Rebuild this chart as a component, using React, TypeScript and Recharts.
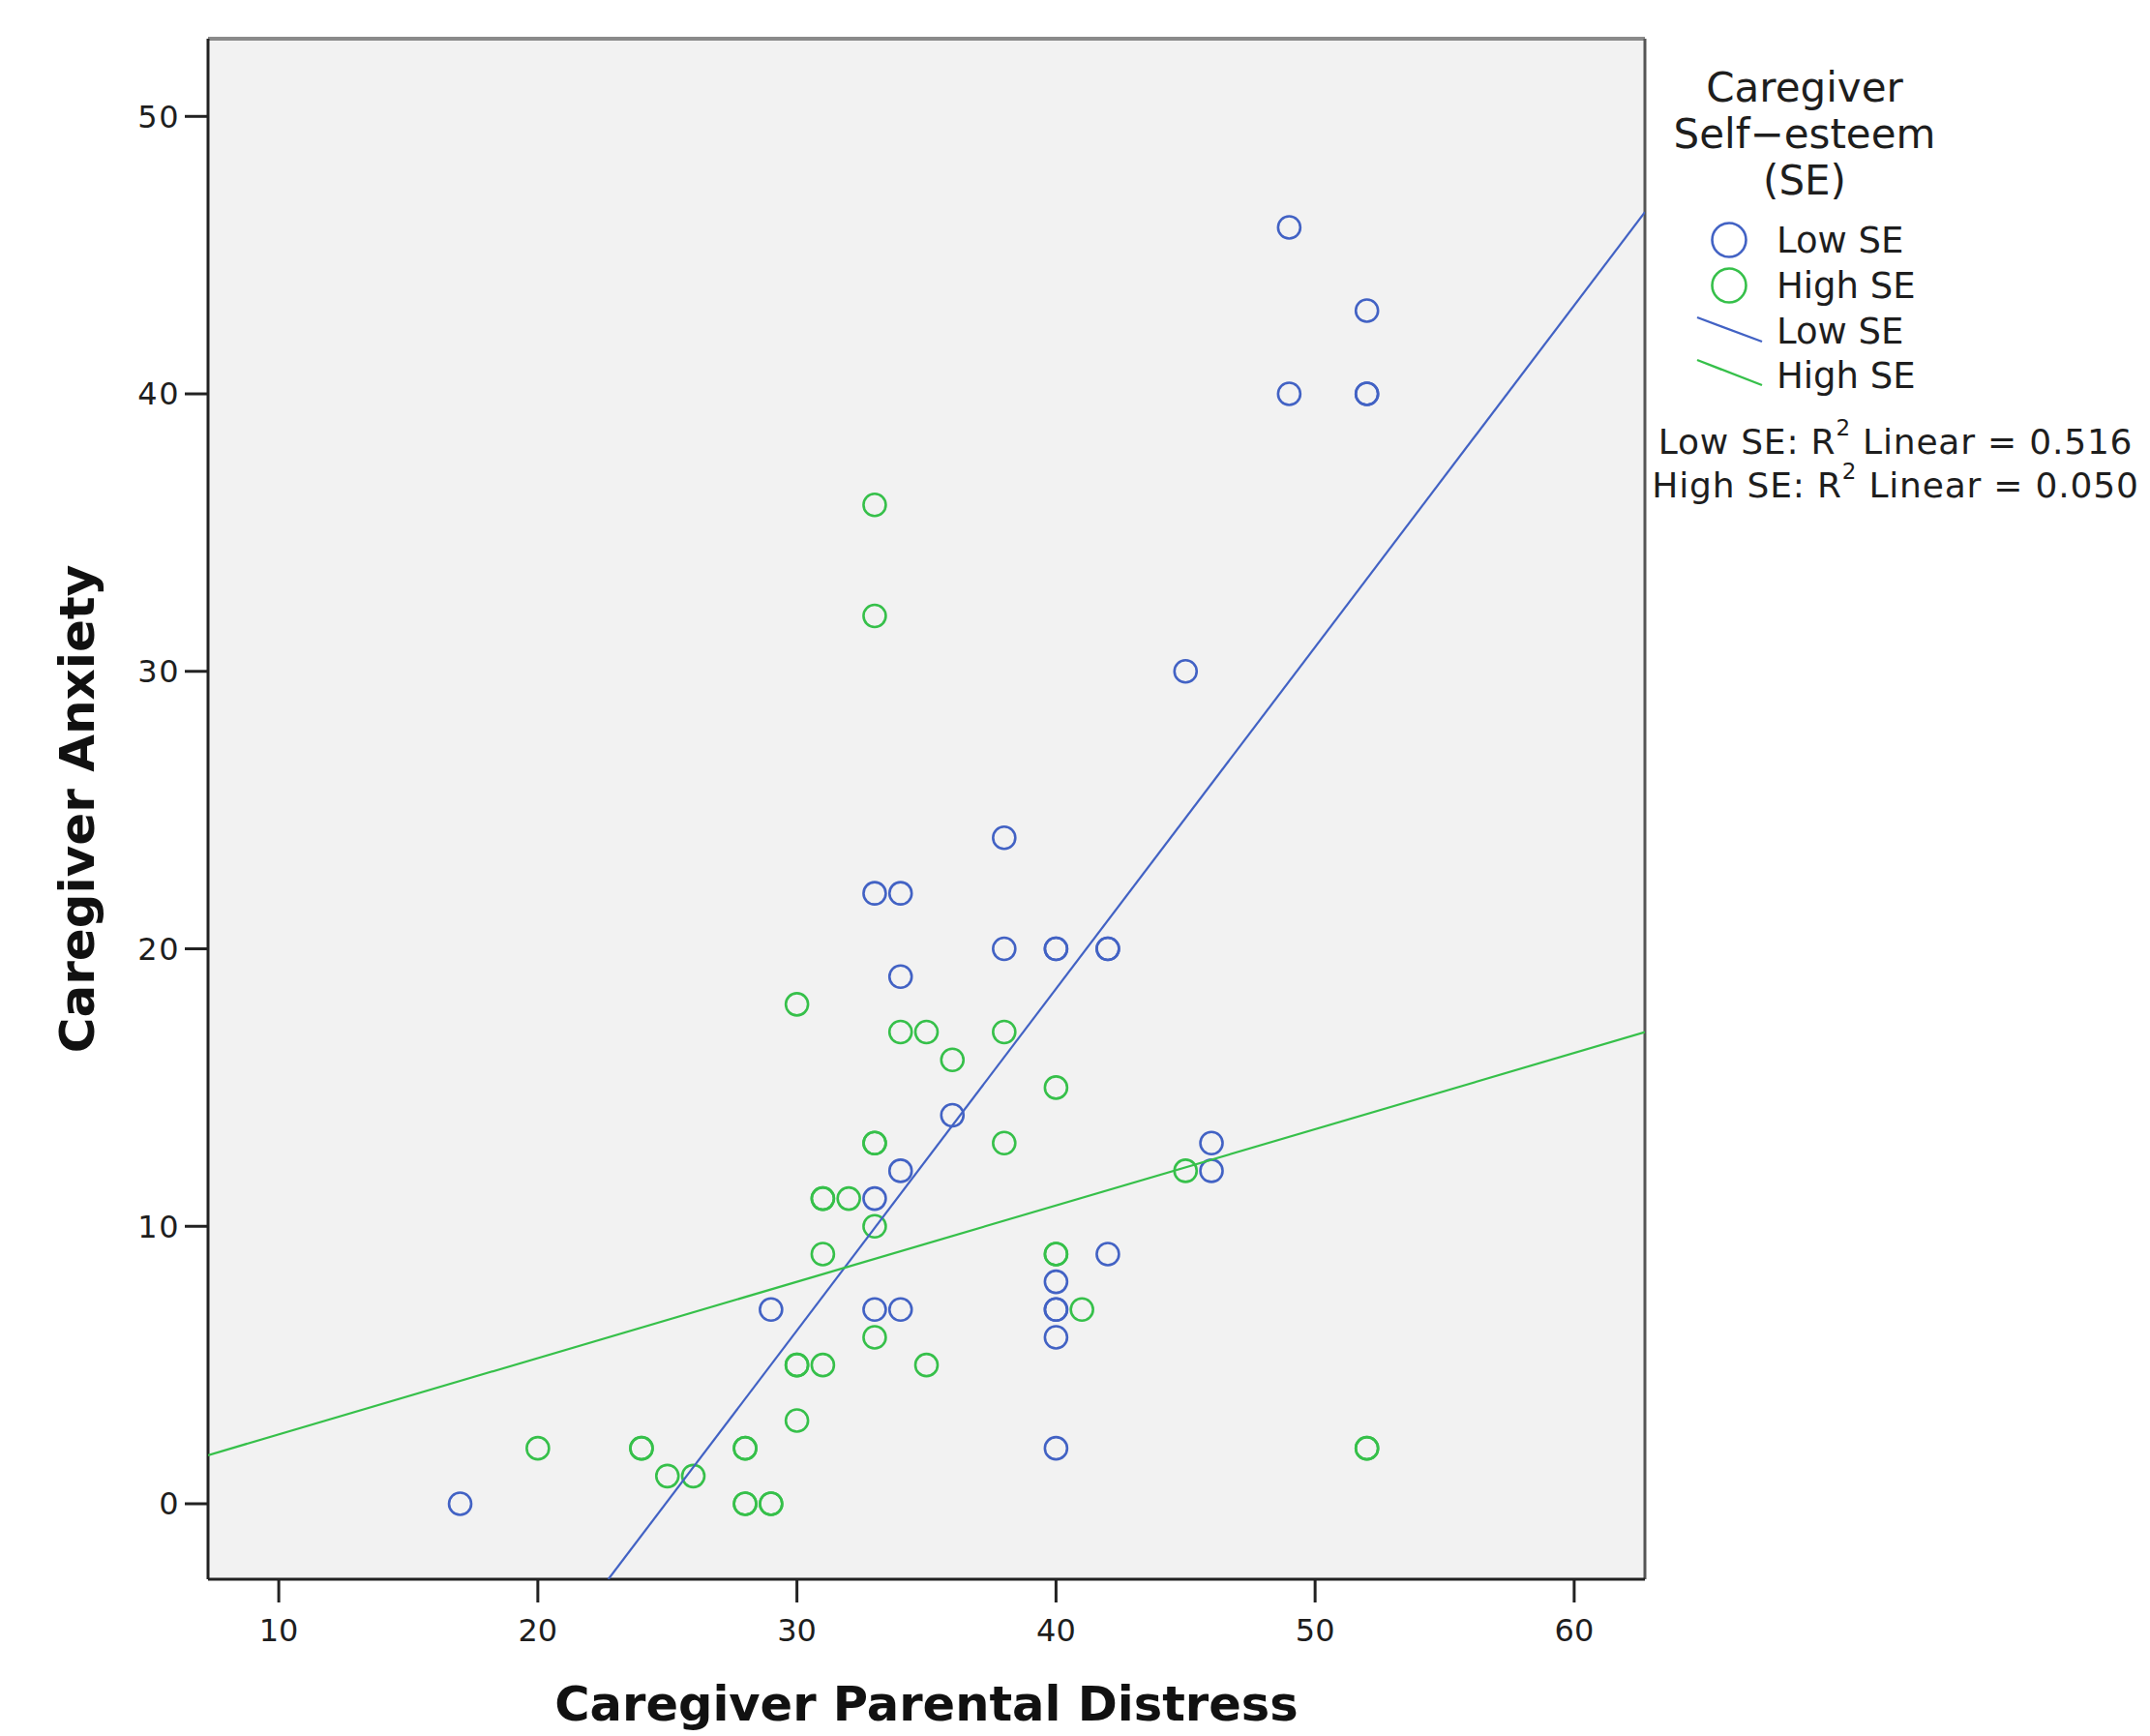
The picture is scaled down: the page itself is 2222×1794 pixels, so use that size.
import React from 'react';
import { ScatterChart, Scatter, XAxis, YAxis, CartesianGrid, Label, ReferenceLine } from 'recharts';

// Caregiver Parental Distress (x) vs Caregiver Anxiety (y)
const lowSEPoints: [number, number][] = [
  [17, 0], [29, 7], [33, 22], [34, 22], [34, 19], [38, 24], [38, 20],
  [40, 20], [40, 20], [42, 20], [42, 20], [36, 14], [34, 12], [33, 11],
  [33, 7], [34, 7], [40, 8], [40, 7], [40, 7], [40, 6], [40, 2], [42, 9],
  [46, 13], [46, 12], [45, 30], [49, 46], [49, 40], [52, 43], [52, 40], [52, 40],
];

const highSEPoints: [number, number][] = [
  [33, 36], [33, 32], [30, 18], [34, 17], [35, 17], [38, 17], [36, 16],
  [40, 15], [33, 13], [33, 13], [38, 13], [31, 11], [31, 11], [32, 11],
  [33, 10], [31, 9], [40, 9], [40, 9], [45, 12], [41, 7], [33, 6],
  [30, 5], [30, 5], [31, 5], [35, 5], [30, 3], [20, 2], [24, 2], [24, 2],
  [28, 2], [28, 2], [25, 1], [26, 1], [28, 0], [28, 0], [29, 0], [29, 0],
  [52, 2], [52, 2],
];

// fit lines (end points at the plot edges)
const lowSEFit: [number, number][] = [[22.72, -2.72], [62.73, 46.55]];
const highSEFit: [number, number][] = [[7.27, 1.75], [62.73, 17.0]];

const xTicks = [10, 20, 30, 40, 50, 60];
const yTicks = [0, 10, 20, 30, 40, 50];
const xDomain: [number, number] = [7.27, 62.73];
const yDomain: [number, number] = [-2.72, 52.8];

const legendTitle = ['Caregiver', 'Self\u2212esteem', '(SE)'];
const seriesNames = ['Low SE', 'High SE'];
const r2Values = ['0.516', '0.050'];

const BLUE = '#4262c4';
const GREEN = '#36c04a';
const FONT = "'DejaVu Sans', sans-serif";
const TEXT = '#1e1e1e';

const toObj = (arr: [number, number][]) => arr.map(([x, y]) => ({ x, y }));

const ring = (color: string) => (props: any) => (
  <circle cx={props.cx} cy={props.cy} r={11.5} fill="none" stroke={color} strokeWidth={2.6} />
);
const noShape = () => <g />;

export default function App() {
  return (
    <div style={{ position: 'absolute', left: 0, top: 0, width: 2222, height: 1794, background: '#fff' }}>
      <ScatterChart width={2222} height={1794} margin={{ top: 40, right: 522, bottom: 0, left: 0 }}>
        <CartesianGrid horizontal={false} vertical={false} fill="#f2f2f2" xAxisId="x" yAxisId="y" />
        <ReferenceLine
          xAxisId="x"
          yAxisId="y"
          y={yDomain[1]}
          stroke="#8a8a8a"
          strokeWidth={4}
          ifOverflow="visible"
        />
        <ReferenceLine
          xAxisId="x"
          yAxisId="y"
          x={xDomain[1]}
          stroke="#555"
          strokeWidth={3}
          ifOverflow="visible"
        />
        <XAxis
          xAxisId="x"
          type="number"
          dataKey="x"
          domain={xDomain}
          ticks={xTicks}
          allowDataOverflow
          height={162}
          tickSize={24}
          tickMargin={17}
          stroke="#222"
          axisLine={{ stroke: '#222', strokeWidth: 3 }}
          tickLine={{ stroke: '#222', strokeWidth: 3 }}
          tick={{ fontFamily: FONT, fontSize: 32, fill: TEXT }}
        >
          <Label
            value="Caregiver Parental Distress"
            position="insideBottom"
            offset={16}
            style={{ fontFamily: FONT, fontSize: 49.5, fontWeight: 'bold', fill: '#111' }}
          />
        </XAxis>
        <YAxis
          yAxisId="y"
          type="number"
          dataKey="y"
          domain={yDomain}
          ticks={yTicks}
          allowDataOverflow
          width={215}
          tickSize={24}
          tickMargin={5}
          axisLine={{ stroke: '#222', strokeWidth: 3 }}
          tickLine={{ stroke: '#222', strokeWidth: 3 }}
          tick={{ fontFamily: FONT, fontSize: 32, fill: TEXT, letterSpacing: 1.5 }}
        >
          <Label
            value="Caregiver Anxiety"
            angle={-90}
            position="insideLeft"
            offset={79}
            style={{ fontFamily: FONT, fontSize: 50, fontWeight: 'bold', fill: '#111', textAnchor: 'middle' }}
          />
        </YAxis>
        <Scatter
          name="Low SE"
          data={toObj(lowSEPoints)}
          xAxisId="x"
          yAxisId="y"
          shape={ring(BLUE)}
          isAnimationActive={false}
        />
        <Scatter
          name="High SE"
          data={toObj(highSEPoints)}
          xAxisId="x"
          yAxisId="y"
          shape={ring(GREEN)}
          isAnimationActive={false}
        />
        <Scatter
          name="Low SE fit"
          data={toObj(lowSEFit)}
          xAxisId="x"
          yAxisId="y"
          line={{ stroke: BLUE, strokeWidth: 2.2 }}
          shape={noShape}
          isAnimationActive={false}
        />
        <Scatter
          name="High SE fit"
          data={toObj(highSEFit)}
          xAxisId="x"
          yAxisId="y"
          line={{ stroke: GREEN, strokeWidth: 2.2 }}
          shape={noShape}
          isAnimationActive={false}
        />
      </ScatterChart>

      <svg
        width={2222}
        height={1794}
        style={{ position: 'absolute', left: 0, top: 0, pointerEvents: 'none' }}
      >
        <g fontFamily={FONT} fill={TEXT}>
          {legendTitle.map((t, i) => (
            <text key={t} x={1865} y={90 + i * 48} fontSize={42} textAnchor="middle" dominantBaseline="central">
              {t}
            </text>
          ))}
          <circle cx={1787} cy={248} r={17.5} fill="none" stroke={BLUE} strokeWidth={2.6} />
          <circle cx={1787} cy={295} r={17.5} fill="none" stroke={GREEN} strokeWidth={2.6} />
          <line x1={1754} y1={328} x2={1821} y2={353} stroke={BLUE} strokeWidth={2.4} />
          <line x1={1754} y1={372} x2={1821} y2={398} stroke={GREEN} strokeWidth={2.4} />
          {[248, 295].map((cy, i) => (
            <text key={'p' + i} x={1836} y={cy} fontSize={37} dominantBaseline="central">
              {seriesNames[i]}
            </text>
          ))}
          {[342, 388].map((cy, i) => (
            <text key={'l' + i} x={1836} y={cy} fontSize={37} dominantBaseline="central">
              {seriesNames[i]}
            </text>
          ))}
          {[456, 501].map((cy, i) => (
            <text key={'r' + i} x={1959} y={cy} fontSize={36} textAnchor="middle" dominantBaseline="central" letterSpacing={0.8}>
              {seriesNames[i]}: R
              <tspan fontSize={23} dy={-14}>2</tspan>
              <tspan dy={14}>{'\u00a0Linear = ' + r2Values[i]}</tspan>
            </text>
          ))}
        </g>
      </svg>
    </div>
  );
}
